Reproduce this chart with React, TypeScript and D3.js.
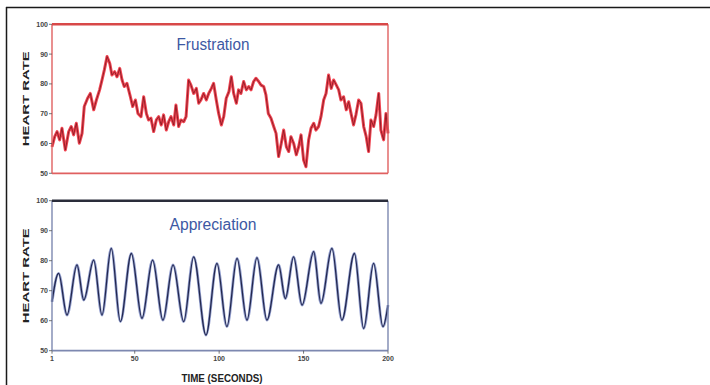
import React from "react";
import * as d3 from "d3";

// Frustration panel: time (s) and heart rate (bpm)
const frustTime = [1, 2.6, 4.0, 5.5, 6.9, 8.9, 10.9, 12.4, 13.8, 15.4, 17.2, 18.8, 20.1, 22.1, 23.7, 25.7, 27.3, 29.2, 30.6, 32.0, 33.6, 35.2, 36.5, 38.1, 39.5, 41.1, 42.5, 43.8, 45.4, 47.4, 48.8, 50.4, 51.9, 53.7, 55.3, 56.9, 58.2, 59.6, 61.2, 62.8, 64.2, 65.7, 67.1, 68.7, 70.1, 71.5, 73.1, 74.4, 76.0, 77.4, 79.0, 80.4, 81.9, 83.3, 84.9, 86.5, 87.9, 89.2, 90.8, 92.4, 93.8, 95.4, 96.7, 98.3, 99.7, 101.3, 102.7, 104.2, 105.8, 107.2, 108.6, 110.2, 111.5, 112.9, 114.5, 116.1, 117.5, 118.9, 120.4, 121.8, 123.4, 124.8, 126.4, 127.7, 129.1, 130.7, 132.3, 133.7, 135.2, 136.8, 138.2, 139.8, 141.2, 142.5, 144.1, 145.7, 147.1, 148.5, 150.0, 151.4, 153.0, 154.4, 156.0, 157.3, 158.9, 160.3, 161.9, 163.3, 164.8, 166.4, 167.8, 169.4, 170.8, 172.1, 173.7, 175.3, 176.7, 178.1, 179.6, 181.0, 182.6, 184.0, 185.6, 187.1, 188.5, 189.9, 191.5, 192.9, 194.5, 195.8, 197.4, 198.8, 200];
const frustHR = [58.9, 62.3, 64.0, 61.2, 65.1, 57.8, 64.0, 65.7, 62.9, 66.8, 60.1, 63.4, 72.4, 75.2, 76.8, 71.3, 74.6, 78.0, 81.3, 84.7, 89.2, 86.9, 83.0, 84.1, 82.4, 85.2, 81.3, 79.1, 80.2, 75.7, 72.4, 74.6, 70.1, 69.0, 75.7, 70.1, 67.9, 68.5, 64.0, 67.9, 69.0, 66.2, 69.6, 64.5, 67.3, 69.0, 66.2, 72.9, 65.7, 67.9, 67.3, 69.0, 81.3, 79.6, 76.8, 78.5, 73.5, 74.6, 76.8, 74.6, 76.8, 78.5, 80.2, 74.6, 70.1, 66.2, 69.0, 75.2, 77.4, 82.4, 76.8, 73.5, 78.0, 76.8, 80.8, 78.0, 79.1, 78.0, 80.8, 81.9, 80.8, 79.6, 79.1, 76.3, 70.1, 68.5, 65.7, 63.4, 55.6, 60.1, 64.5, 58.9, 57.3, 62.3, 60.1, 56.2, 58.9, 62.9, 54.5, 52.2, 61.2, 65.1, 66.8, 64.5, 65.7, 69.0, 74.6, 76.8, 83.0, 78.5, 81.3, 79.6, 78.0, 74.6, 75.7, 71.3, 74.0, 70.1, 66.2, 69.6, 74.6, 73.5, 65.7, 62.3, 57.3, 67.9, 65.7, 69.6, 76.8, 64.5, 61.2, 70.1, 63.4];

// Appreciation panel: time (s) and heart rate (bpm) at turning points
const apprTime = [1, 4.9, 9.9, 15.8, 19.8, 25.7, 30.6, 36.1, 41.5, 48.0, 54.3, 60.6, 66.7, 72.7, 79.0, 84.9, 92.2, 98.7, 104.6, 110.6, 116.5, 122.4, 128.3, 135.2, 139.2, 144.1, 149.1, 156.0, 160.3, 166.8, 172.7, 180.1, 185.6, 191.5, 197.0, 200];
const apprHR = [66.3, 75.8, 61.9, 78.6, 66.9, 80.2, 61.9, 84.1, 59.7, 82.4, 60.8, 80.2, 60.2, 78.6, 59.7, 81.3, 55.2, 79.1, 58.0, 80.8, 60.2, 81.0, 60.2, 78.6, 67.4, 81.3, 65.2, 83.0, 65.8, 84.1, 60.2, 82.4, 57.4, 79.1, 58.0, 65.2];

const yTicks = [50, 60, 70, 80, 90, 100];
const xTicks = [1, 50, 100, 150, 200];
const xTickLabels = ["1", "50", "100", "150", "200"];

const W = 710;
const H = 385;
const left = 52;
const right = 388;

function Panel({ top, bottom, time, hr, title, lineColor, glowColor, curve, frameColor, topColor, showX, coreWidth, glowWidth }: any) {
  const x = d3.scaleLinear().domain([1, 200]).range([left, right]);
  const y = d3.scaleLinear().domain([50, 100]).range([bottom, top]);
  const pts = time.map((t: number, i: number) => [t, hr[i]] as [number, number]);
  const line = d3
    .line<[number, number]>()
    .x((d) => x(d[0]))
    .y((d) => y(d[1]))
    .curve(curve);
  const path = line(pts) || "";
  const midY = (top + bottom) / 2;
  return (
    <g>
      <rect x={left} y={top} width={right - left} height={bottom - top} fill="#fff" stroke="none" />
      <path d={path} fill="none" stroke={glowColor} strokeWidth={glowWidth} strokeOpacity={0.85} strokeLinejoin="round" />
      <path d={path} fill="none" stroke={lineColor} strokeWidth={coreWidth} strokeLinejoin="round" />
      <line x1={left} x2={left} y1={top} y2={bottom} stroke={frameColor} strokeWidth={1.4} />
      <line x1={right} x2={right} y1={top} y2={bottom} stroke={frameColor} strokeWidth={1.4} />
      <line x1={left} x2={right} y1={bottom} y2={bottom} stroke={frameColor} strokeWidth={1.8} />
      <line x1={left} x2={right} y1={top} y2={top} stroke={topColor} strokeWidth={2.4} />
      {yTicks.map((v) => (
        <g key={v}>
          <line x1={left - 3} x2={left} y1={y(v)} y2={y(v)} stroke="#555" strokeWidth={0.8} />
          <text x={left - 4} y={y(v) + 2.5} textAnchor="end" fontSize={7} fontWeight="bold" fill="#444" fontFamily="Liberation Sans, Arial, sans-serif">
            {v}
          </text>
        </g>
      ))}
      <text
        transform={`translate(29,${midY}) rotate(-90)`}
        textAnchor="middle"
        fontSize={9}
        fontWeight="bold"
        fill="#222"
        fontFamily="Liberation Sans, Arial, sans-serif"
        textLength={95}
        lengthAdjust="spacingAndGlyphs"
      >
        HEART RATE
      </text>
      <text
        x={213}
        y={top + (title === "Frustration" ? 26 : 29)}
        textAnchor="middle"
        fontSize={16}
        fill="#3d58a3"
        fontFamily="Liberation Sans, Arial, sans-serif"
        textLength={title === "Frustration" ? 73 : 87}
        lengthAdjust="spacingAndGlyphs"
      >
        {title}
      </text>
      {showX &&
        xTicks.map((t, i) => (
          <g key={t}>
            <line x1={x(t)} x2={x(t)} y1={bottom} y2={bottom + 3} stroke="#555" strokeWidth={0.8} />
            <text x={x(t)} y={bottom + 10} textAnchor="middle" fontSize={7} fontWeight="bold" fill="#444" fontFamily="Liberation Sans, Arial, sans-serif">
              {xTickLabels[i]}
            </text>
          </g>
        ))}
    </g>
  );
}

export default function App() {
  return (
    <div style={{ position: "absolute", left: 0, top: 0 }}>
      <svg width={W} height={H} style={{ display: "block" }}>
        <rect x={0} y={0} width={W} height={H} fill="#fff" />
        <line x1={6} x2={W} y1={7.5} y2={7.5} stroke="#1a1a1a" strokeWidth={1.5} />
        <line x1={6.5} x2={6.5} y1={7} y2={H} stroke="#1a1a1a" strokeWidth={1.5} />
        <Panel
          top={24.3}
          bottom={173.3}
          time={frustTime}
          hr={frustHR}
          title="Frustration"
          lineColor="#8c1a24"
          glowColor="#ec2434"
          glowWidth={3}
          coreWidth={0.9}
          curve={d3.curveLinear}
          frameColor="#e06060"
          topColor="#d84848"
          showX={false}
        />
        <Panel
          top={200.7}
          bottom={350.7}
          time={apprTime}
          hr={apprHR}
          title="Appreciation"
          lineColor="#23284f"
          glowColor="#8390c8"
          glowWidth={2.8}
          coreWidth={1.3}
          curve={d3.curveMonotoneX}
          frameColor="#7d88b0"
          topColor="#2a2d3a"
          showX={true}
        />
        <text
          x={222}
          y={382}
          textAnchor="middle"
          fontSize={10}
          fontWeight="bold"
          fill="#222"
          fontFamily="Liberation Sans, Arial, sans-serif"
          textLength={81}
          lengthAdjust="spacingAndGlyphs"
        >
          TIME (SECONDS)
        </text>
      </svg>
    </div>
  );
}
